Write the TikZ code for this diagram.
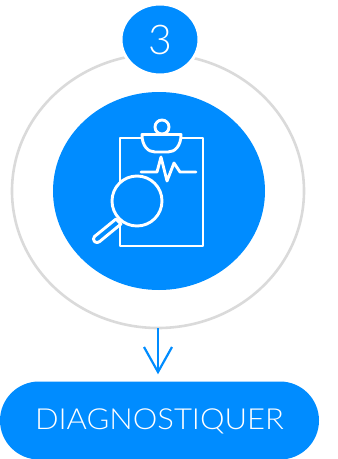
\documentclass[tikz,border=0pt]{standalone}
\usepackage{fontspec}
\setmainfont{Lato Light}
\newfontfamily\widefont[FakeStretch=1.07]{Lato Light}
\usetikzlibrary{shapes.geometric}
\definecolor{brand}{HTML}{008CFF}
\definecolor{ringgrey}{HTML}{DADADA}
\tikzset{
  ic/.style={draw=white,line width=2.9pt,line join=round,line cap=round},
  ell/.style={ellipse,inner sep=0pt,outer sep=0pt},
}
\begin{document}
\begin{tikzpicture}[x=1pt,y=-1pt]
\useasboundingbox (0,0) rectangle (338,459);
\node[ell,draw=ringgrey,line width=2.6pt,minimum width=292pt,minimum height=274pt] (outer) at (158,191) {};
\node[ell,fill=brand,draw=white,line width=3pt,minimum width=78pt,minimum height=71pt] (badge) at (160,39.5) {};
\node[text=white,font=\fontsize{41}{41}\selectfont] (num) at (160,39.5) {3};
\node[ell,fill=brand,minimum width=212pt,minimum height=198pt] (inner) at (159,191) {};
% clipboard
\draw[ic] (142,138) -- (120,138) -- (120,246) -- (203,246) -- (203,138) -- (181,138);
\draw[ic] (162,127) circle (7);
\draw[ic,fill=brand] (142,134.5) -- (181,134.5) .. controls (181,146) and (175,152) .. (168,152) -- (155,152) .. controls (148,152) and (142,146) .. (142,134.5) -- cycle;
\draw[ic] (141,172) -- (157,172) -- (161,157) -- (167,181) -- (174,163) -- (180,172) -- (196,172);
% magnifier
\draw[ic,fill=brand] (116,219) -- (94.5,236.5) arc[start angle=-135,end angle=-315,radius=3.6] -- (121,224) -- cycle;
\draw[ic,fill=brand] (137,201) circle (25);
% pill
\node[rounded corners=39pt,fill=brand,minimum width=319pt,minimum height=78pt,inner sep=0pt,outer sep=0pt] (pill) at (159.5,420.5) {};
\node[text=white,font=\widefont\fontsize{29}{29}\selectfont] (label) at (159.5,421) {DIAGNOSTIQUER};
% arrow
\coordinate (tip) at (158,372);
\coordinate (armL) at (144,347);
\coordinate (armR) at (172,347);
\draw[brand,line width=2.2pt] (outer.south) -- (tip);
\draw[brand,line width=2.2pt,line join=miter] (armL) -- (tip) -- (armR);
\end{tikzpicture}
\end{document}
